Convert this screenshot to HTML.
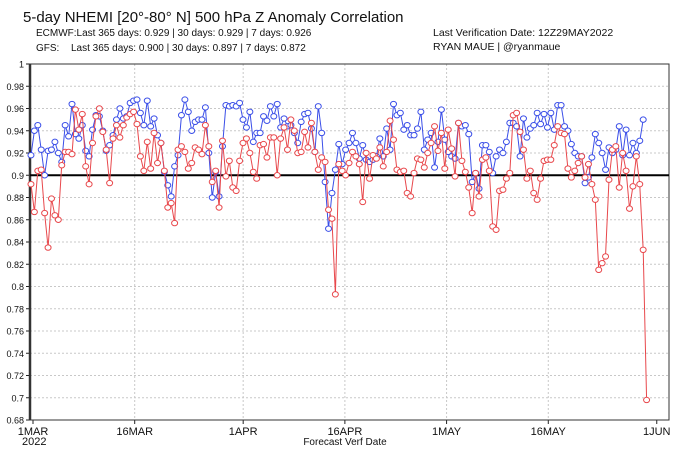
<!DOCTYPE html>
<html><head><meta charset="utf-8"><style>
body{margin:0;background:#fff;width:680px;height:453px;overflow:hidden;font-family:"Liberation Sans",sans-serif}
svg text{font-family:"Liberation Sans",sans-serif}
</style></head><body>
<svg id="c" width="680" height="453" xmlns="http://www.w3.org/2000/svg">
<text x="23" y="22" font-size="15" fill="#111">5-day NHEMI [20°-80° N] 500 hPa Z Anomaly Correlation</text>
<text x="36" y="36" font-size="10" fill="#111">ECMWF:Last 365 days: 0.929 | 30 days: 0.929 | 7 days: 0.926</text>
<text x="36" y="51" font-size="10" fill="#111">GFS:<tspan x="71">Last 365 days: 0.900 | 30 days: 0.897 | 7 days: 0.872</tspan></text>
<text x="433" y="36" font-size="10.5" fill="#111">Last Verification Date: 12Z29MAY2022</text>
<text x="433" y="50" font-size="10.5" fill="#111">RYAN MAUE | @ryanmaue</text>
<g id="grid"></g><g id="axes"></g><g id="series"></g>
<text x="345" y="445" font-size="10" text-anchor="middle" fill="#111">Forecast Verf Date</text>
<text x="22" y="445" font-size="11" fill="#111">2022</text>
</svg>
<script>
const yTicks=[1,0.98,0.96,0.94,0.92,0.9,0.88,0.86,0.84,0.82,0.8,0.78,0.76,0.74,0.72,0.7,0.68];
const xTickLabels=["1MAR","16MAR","1APR","16APR","1MAY","16MAY","1JUN"];
const xTickDays=[0,15,31,46,61,76,92];
const blueStartDay=-0.3, blueEndDay=90.0, redStartDay=-0.3, redEndDay=90.5;
const ecmwf=[0.918,0.940,0.945,0.923,0.900,0.922,0.923,0.930,0.920,0.912,0.945,0.935,0.964,0.937,0.933,0.945,0.922,0.917,0.941,0.954,0.953,0.940,0.922,0.927,0.936,0.950,0.960,0.951,0.953,0.965,0.967,0.968,0.956,0.945,0.967,0.944,0.951,0.936,0.929,0.903,0.891,0.881,0.908,0.918,0.954,0.968,0.957,0.940,0.948,
0.950,0.950,0.961,0.920,0.880,0.903,0.881,0.926,0.963,0.962,0.963,0.962,0.965,0.950,0.943,0.957,0.930,0.938,0.938,0.953,0.949,0.962,0.953,0.964,0.943,0.951,0.944,0.945,0.938,0.929,0.948,0.955,0.956,0.942,0.921,0.962,0.938,0.894,0.852,0.884,0.905,0.928,0.910,0.923,0.929,0.938,
0.929,0.915,0.927,0.914,0.912,0.914,0.917,0.933,0.917,0.942,0.923,0.964,0.954,0.956,0.941,0.945,0.936,0.936,0.942,0.957,0.923,0.932,0.938,0.907,0.930,0.959,0.932,0.921,0.917,0.915,0.947,0.944,0.945,0.937,0.894,0.902,0.888,0.927,0.927,0.921,0.902,0.917,0.923,0.920,0.930,0.947,0.947,
0.944,0.917,0.951,0.934,0.942,0.945,0.956,0.946,0.955,0.943,0.956,0.941,0.963,0.963,0.944,0.940,0.928,0.920,0.917,0.917,0.893,0.898,0.916,0.937,0.929,0.920,0.905,0.925,0.920,0.923,0.944,0.918,0.941,0.918,0.929,0.920,0.931,0.950];
const gfs=[0.892,0.867,0.904,0.905,0.866,0.835,0.879,0.864,0.860,0.909,0.921,0.921,0.919,0.959,0.941,0.955,0.908,0.892,0.929,0.953,0.960,0.939,0.923,0.893,0.933,0.945,0.934,0.945,0.952,0.955,0.957,0.946,0.917,0.904,0.930,0.906,0.938,0.911,0.929,0.904,0.871,0.875,0.857,0.923,0.926,0.921,0.906,0.911,0.925,
0.923,0.919,0.945,0.926,0.894,0.904,0.871,0.931,0.899,0.913,0.889,0.886,0.913,0.929,0.933,0.920,0.903,0.897,0.927,0.928,0.916,0.934,0.934,0.900,0.933,0.943,0.923,0.950,0.940,0.920,0.921,0.939,0.925,0.947,0.921,0.905,0.916,0.912,0.869,0.861,0.793,0.910,0.904,0.900,0.911,0.921,
0.917,0.910,0.876,0.920,0.897,0.918,0.915,0.925,0.908,0.921,0.949,0.932,0.905,0.903,0.904,0.884,0.881,0.902,0.915,0.914,0.907,0.920,0.929,0.944,0.922,0.938,0.906,0.941,0.924,0.899,0.947,0.913,0.903,0.889,0.866,0.902,0.881,0.914,0.916,0.904,0.854,0.851,0.886,0.887,0.897,0.902,0.954,
0.956,0.939,0.923,0.897,0.904,0.884,0.878,0.897,0.913,0.914,0.914,0.927,0.944,0.938,0.937,0.906,0.898,0.904,0.911,0.917,0.898,0.910,0.892,0.878,0.815,0.821,0.827,0.896,0.923,0.926,0.889,0.920,0.904,0.870,0.890,0.917,0.892,0.833,0.698];
const L=30,R=669,T=64,B=420,NS='http://www.w3.org/2000/svg';
const xs=d=>33+d*6.78, ys=v=>T+(1-v)/0.32*(B-T);
function mk(tag,attrs,parent){const e=document.createElementNS(NS,tag);for(const k in attrs)e.setAttribute(k,attrs[k]);parent.appendChild(e);return e;}
const grid=document.getElementById('grid'),axes=document.getElementById('axes'),ser=document.getElementById('series');
mk('rect',{x:L,y:T,width:R-L,height:B-T,fill:'#fff',stroke:'none'},grid);
yTicks.forEach(v=>{const y=ys(v);
 if(v<1&&v>0.68){const g=mk('line',{x1:L,x2:R,y1:y,y2:y,stroke:'#c8c8c8','stroke-dasharray':'2,2','stroke-width':1},grid);
 
 }
 const tk=mk('line',{x1:L-4,x2:L,y1:y,y2:y,stroke:'#222'},axes);
 
 
 const t=mk('text',{x:L-6,y:y+3.5,'font-size':9,'text-anchor':'end',fill:'#111'},axes);t.textContent=String(v);
 
 });
xTickDays.forEach((d,i)=>{const x=xs(d);
 if(i>0&&i<xTickDays.length-1){const g=mk('line',{x1:x,x2:x,y1:T,y2:B,stroke:'#c8c8c8','stroke-dasharray':'2,2'},grid);
 
 }
 const tk=mk('line',{x1:x,x2:x,y1:B,y2:B+4,stroke:'#222'},axes);
 
 
 const t=mk('text',{x:x,y:B+15,'font-size':11,'text-anchor':'middle',fill:'#111'},axes);t.textContent=xTickLabels[i];
 
 });
const fr=mk('rect',{x:L,y:T,width:R-L,height:B-T,fill:'none',stroke:'#333','stroke-width':1},axes);


const la=mk('line',{x1:L,x2:L,y1:T,y2:B,stroke:'#333','stroke-width':2.5},axes);


const ref=mk('line',{x1:L,x2:R,y1:ys(0.9),y2:ys(0.9),stroke:'#000','stroke-width':2},axes);


function draw(vals,s,e,color,name){
 const step=(e-s)/(vals.length-1);
 const pts=vals.map((v,i)=>[xs(s+i*step),ys(v)]);
 const g=mk('g',{},ser);
 
 
 const p=mk('polyline',{points:pts.map(p=>p[0].toFixed(1)+','+p[1].toFixed(1)).join(' '),fill:'none',stroke:color,'stroke-width':1},g);
 
 
 pts.forEach(q=>{const c=mk('ellipse',{cx:q[0],cy:q[1],rx:3,ry:2.7,fill:'#fff',stroke:color,'stroke-width':1},g);
 
 });
}
draw(gfs,redStartDay,redEndDay,'#e8484c','gfs');
draw(ecmwf,blueStartDay,blueEndDay,'#3a4ee8','ecmwf');
ser.appendChild(ser.firstChild);
</script>
</body></html>
